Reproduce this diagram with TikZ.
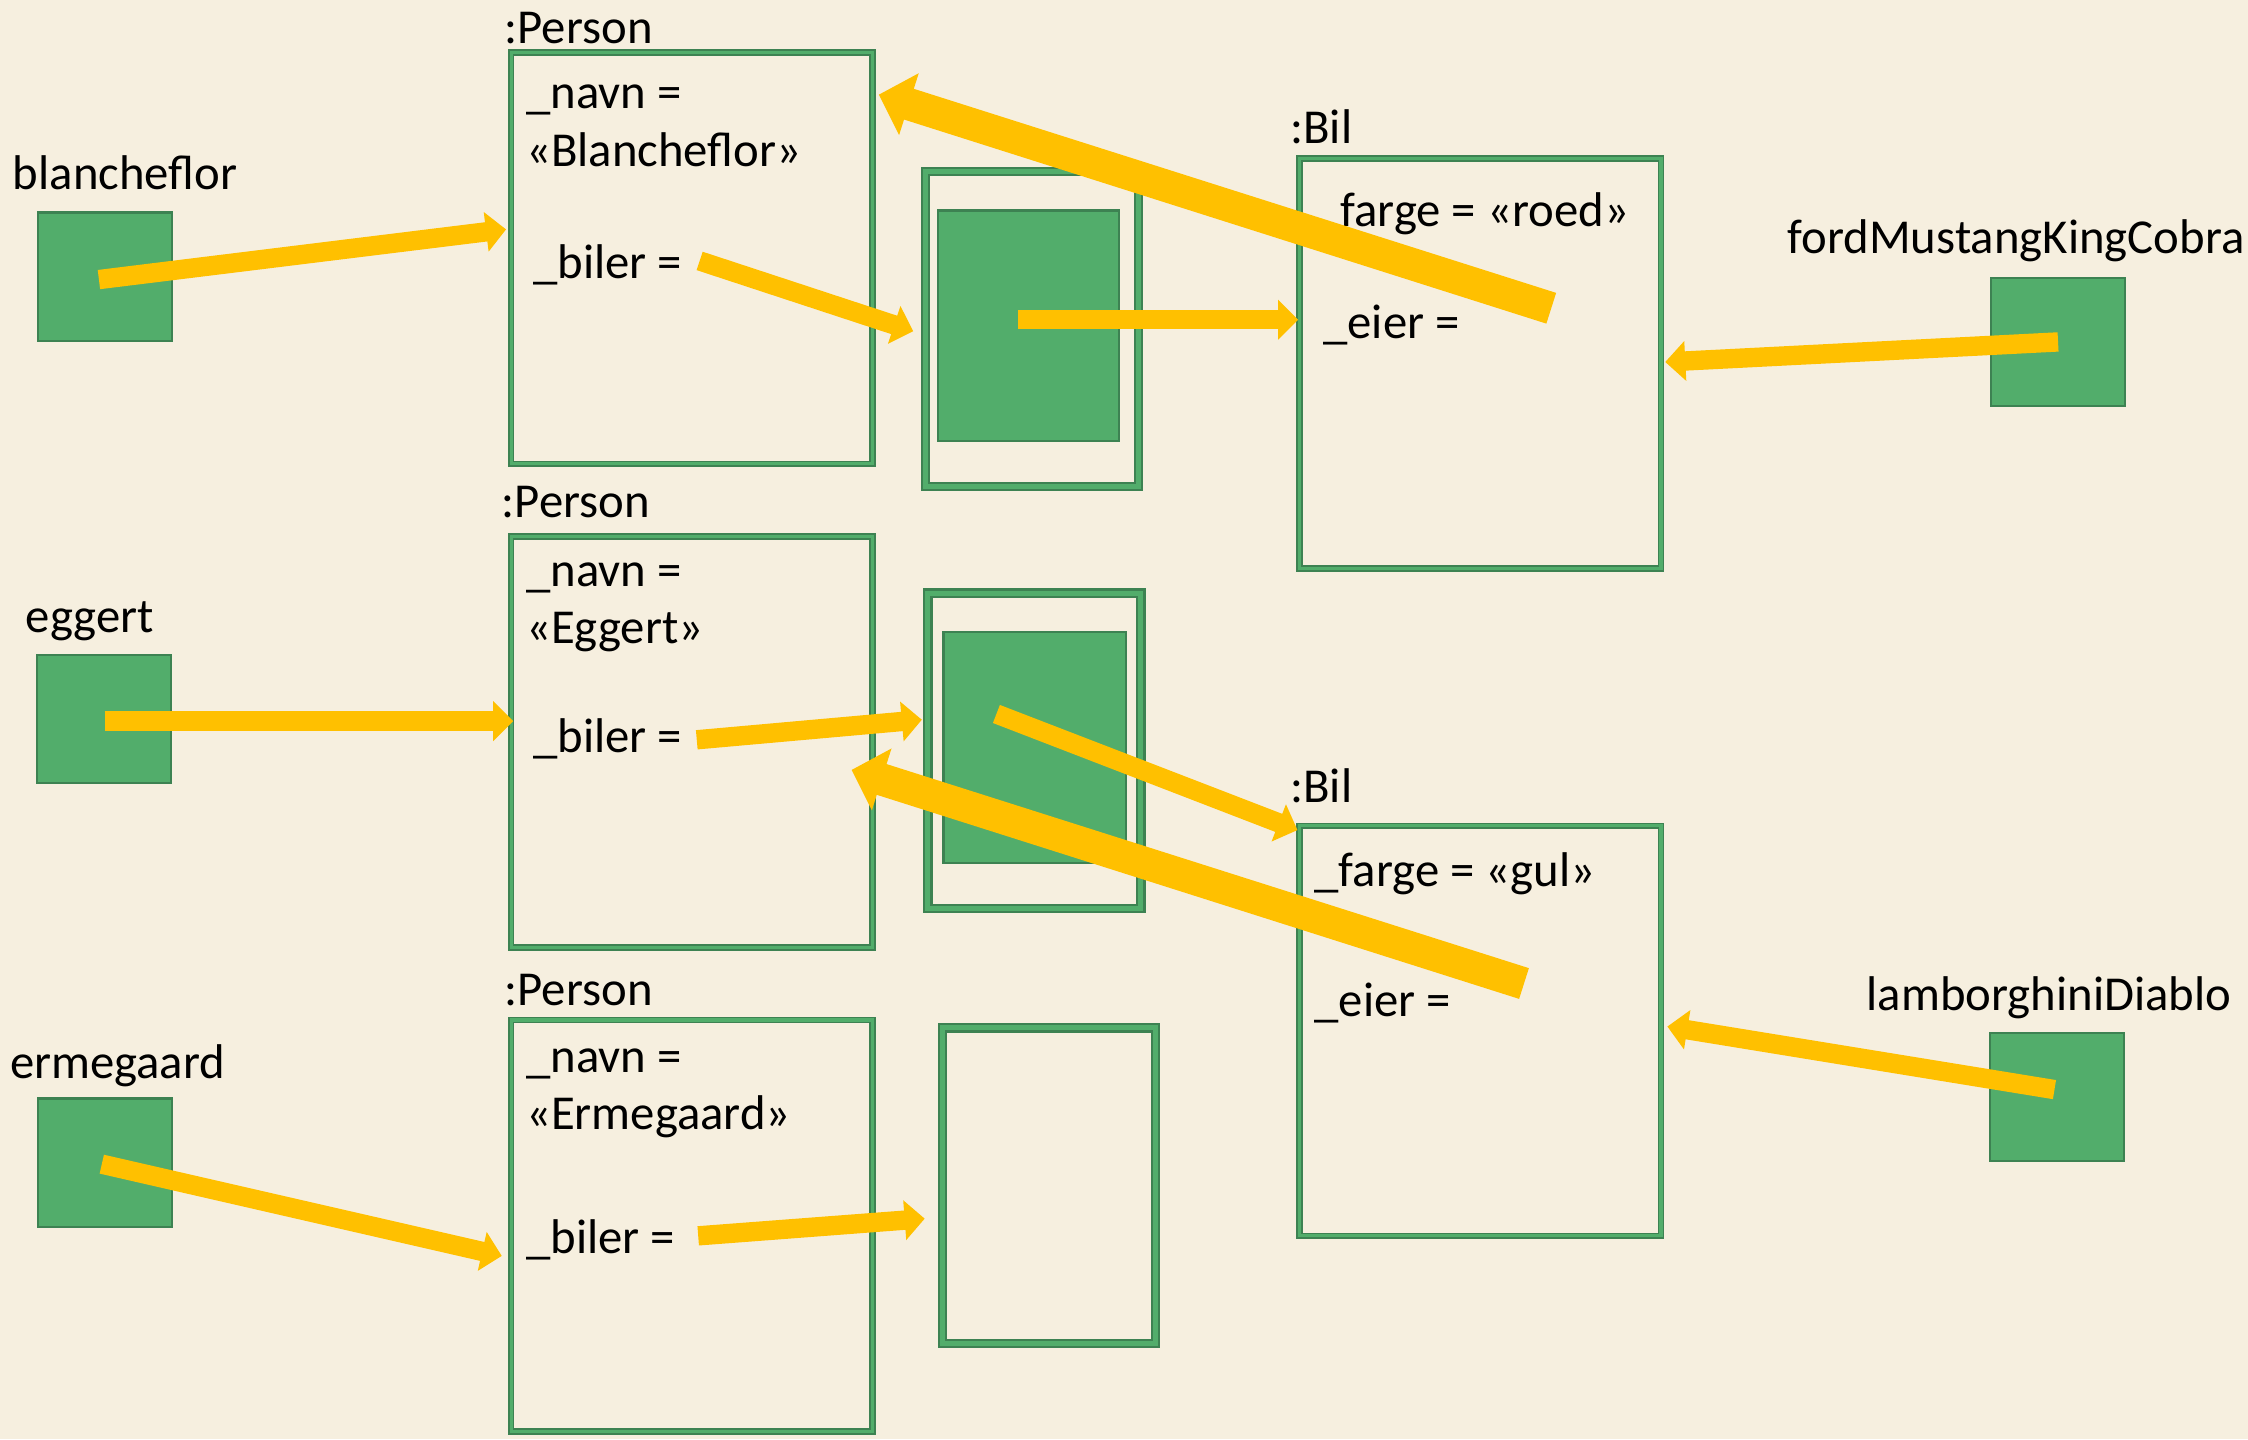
\documentclass[tikz,border=0pt]{standalone}
\usepackage{fontspec}
\setmainfont{Carlito}
\usetikzlibrary{arrows.meta}
\definecolor{paper}{RGB}{246,239,223}
\definecolor{boxgreen}{RGB}{82,173,107}
\definecolor{edgegreen}{RGB}{61,130,82}
\definecolor{refyellow}{RGB}{255,192,0}
\begin{document}
\begin{tikzpicture}[x=1pt,y=-1pt,
  every node/.style={inner sep=0pt, outer sep=0pt},
  txt/.style={anchor=base west, font=\fontsize{34}{41}\selectfont},
  objframe/.style={draw=edgegreen, double=boxgreen, line width=1.2pt,
    double distance=2.2pt, minimum width=252pt, minimum height=287pt},
  listframe/.style={draw=edgegreen, double=boxgreen, line width=1.5pt,
    double distance=3.5pt, minimum width=148.5pt, minimum height=220pt},
  cellbox/.style={draw=edgegreen, fill=boxgreen, line width=1.5pt},
  varbox/.style={cellbox, minimum width=93.5pt, minimum height=89.5pt},
  refarrow/.style={draw=refyellow, line width=13.5pt,
    -{Triangle[width=27pt,length=14pt]}},
  backarrow/.style={draw=refyellow, line width=22.5pt,
    -{Triangle[width=44pt,length=22pt]}}
]
\useasboundingbox (0,0) rectangle (1568,1004);
\fill[paper] (0,0) rectangle (1568,1004);

% reference variables
\node[varbox] (vb) at (73.5,193) {};
\node[varbox] (ve) at (72.5,501.5) {};
\node[varbox] (vm) at (73.5,811) {};
\node[varbox] (vf) at (1435.5,238.5) {};
\node[varbox] (vl) at (1435,765) {};
\node[txt] (nb) at (9,132) {blancheflor};
\node[txt] (ne) at (18,441) {eggert};
\node[txt] (nm) at (7,752) {ermegaard};
\node[txt] (nf) at (1247,177) {fordMustangKingCobra};
\node[txt] (nl) at (1302,705) {lamborghiniDiablo};

% Person objects
\node[objframe] (p1) at (482.5,180) {};
\node[objframe] (p2) at (482.5,517.5) {};
\node[objframe] (p3) at (482.5,855) {};
\node[txt] (p1t) at (352,30) {:Person};
\node[txt] (p2t) at (350,361) {:Person};
\node[txt] (p3t) at (352,701) {:Person};
\node[txt] (p1n) at (367,76) {\_navn =};
\node[txt] (p1v) at (367,116) {«Blancheflor»};
\node[txt] (p1b) at (372,194) {\_biler =};
\node[txt] (p2n) at (367,409) {\_navn =};
\node[txt] (p2v) at (367,449) {«Eggert»};
\node[txt] (p2b) at (372,525) {\_biler =};
\node[txt] (p3n) at (367,748) {\_navn =};
\node[txt] (p3v) at (367,788) {«Ermegaard»};
\node[txt] (p3b) at (367,874) {\_biler =};

% car lists
\node[listframe] (a1) at (720,229.5) {};
\node[listframe] (a2) at (721.5,523.7) {};
\node[listframe] (a3) at (731.5,827) {};
\node[cellbox, minimum width=126.5pt, minimum height=161pt] (c1) at (717.5,227.3) {};
\node[cellbox, minimum width=127pt, minimum height=161pt] (c2) at (721.6,521.4) {};

% Bil objects
\node[objframe, minimum height=286pt] (b1) at (1032.5,253.5) {};
\node[objframe, minimum height=286pt] (b2) at (1032.5,719) {};
\node[txt] (b1t) at (900,100) {:Bil};
\node[txt] (b2t) at (900,560) {:Bil};
\node[txt] (b1f) at (935,158) {farge = «roed»};
\node[txt] (b1e) at (923,236) {\_eier =};
\node[txt] (b2f) at (917,618) {\_farge = «gul»};
\node[txt] (b2e) at (917,709) {\_eier =};

% arrow end points
\coordinate (vbt) at (69,195);
\coordinate (p1in) at (353,160);
\coordinate (p1bs) at (488,182);
\coordinate (a1in) at (637,231);
\coordinate (c1s) at (710,223);
\coordinate (b1in) at (905.5,223);
\coordinate (b1es) at (1082,215);
\coordinate (p1back) at (613,66);
\coordinate (b1side) at (1161.5,252.5);
\coordinate (ves) at (73,503);
\coordinate (p2in) at (358,503);
\coordinate (p2bs) at (486,516);
\coordinate (a2in) at (643,502);
\coordinate (c2s) at (695,498);
\coordinate (b2corner) at (905,579);
\coordinate (b2es) at (1063,686);
\coordinate (p2back) at (594,537);
\coordinate (vls) at (1433,760);
\coordinate (b2side) at (1163,716);
\coordinate (vms) at (71,812);
\coordinate (p3in) at (350,876);
\coordinate (p3bs) at (487,862);
\coordinate (a3in) at (645,850);

% references
\draw[refarrow] (vbt) -- (p1in);
\draw[refarrow] (p1bs) -- (a1in);
\draw[refarrow] (c1s) -- (b1in);
\draw[backarrow] (b1es) -- (p1back);
\draw[refarrow] (vf.center) -- (b1side);
\draw[refarrow] (ves) -- (p2in);
\draw[refarrow] (p2bs) -- (a2in);
\draw[refarrow] (c2s) -- (b2corner);
\draw[backarrow] (b2es) -- (p2back);
\draw[refarrow] (vls) -- (b2side);
\draw[refarrow] (vms) -- (p3in);
\draw[refarrow] (p3bs) -- (a3in);
\end{tikzpicture}
\end{document}
